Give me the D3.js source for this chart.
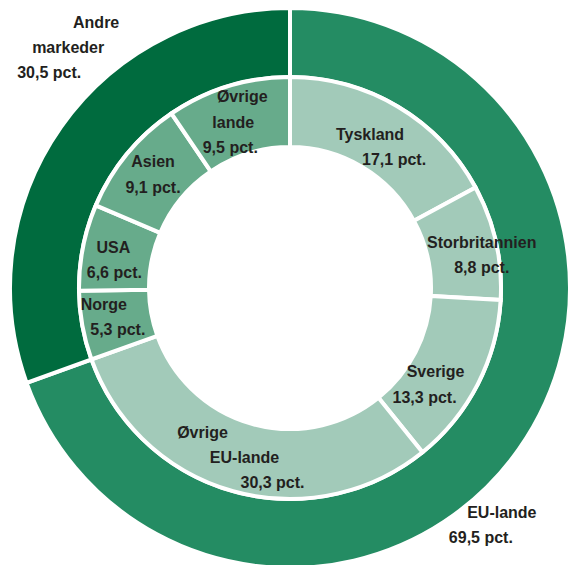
<!DOCTYPE html>
<html>
<head>
<meta charset="utf-8">
<script src="https://cdn.jsdelivr.net/npm/d3@7"></script>
<style>
  html, body { margin: 0; padding: 0; background: #fff; }
  svg { display: block; }
  text { font-family: "Liberation Sans", Arial, sans-serif; font-weight: bold; font-size: 16px; fill: #231f20; }
</style>
</head>
<body>
<svg id="chart" width="577" height="565"></svg>
<script>
// Outer ring: market groups
const groupNames  = ["EU-lande", "Andre markeder"];
const groupValues = [69.5, 30.5];

// Inner ring: individual markets (same order, clockwise from top)
const marketNames  = ["Tyskland", "Storbritannien", "Sverige", "Øvrige EU-lande",
                      "Norge", "USA", "Asien", "Øvrige lande"];
const marketValues = [17.1, 8.8, 13.3, 30.3, 5.3, 6.6, 9.1, 9.5];
const marketGroup  = [0, 0, 0, 0, 1, 1, 1, 1];

// Label text lines
const groupLabelLines  = [["EU-lande", "69,5 pct."], ["Andre", "markeder", "30,5 pct."]];
const marketLabelLines = [
  ["Tyskland", "17,1 pct."],
  ["Storbritannien", "8,8 pct."],
  ["Sverige", "13,3 pct."],
  ["Øvrige", "EU-lande", "30,3 pct."],
  ["Norge", "5,3 pct."],
  ["USA", "6,6 pct."],
  ["Asien", "9,1 pct."],
  ["Øvrige", "lande", "9,5 pct."]
];

// Colours
const groupColors  = ["#248c63", "#006b3e"];
const marketColors = ["#a2cab9", "#67ab8b"];

// Per-line label offsets (dx, dy) from each arc's centroid
const groupLabelOffsets = [
  [[11, 89], [-10, 114]],
  [[7, -119], [-21, -94], [-40, -69]]
];
const marketLabelOffsets = [
  [[-10, 3], [14, 28]],
  [[20, -2], [20, 23]],
  [[-11, 9], [-22, 35]],
  [[-40, -19], [2, 6], [30, 31]],
  [[-13, -9], [1, 16]],
  [[-4, -1], [-3, 24]],
  [[-1, -9], [-1, 17]],
  [[4, -18], [-5, 8], [-8, 33]]
];

const svg = d3.select("#chart");
const cx = 290, cy = 288;
const g = svg.append("g").attr("transform", `translate(${cx},${cy})`);

const pie = d3.pie().sort(null).value(d => d);

const outerArc = d3.arc().innerRadius(211).outerRadius(280);
const innerArc = d3.arc().innerRadius(141).outerRadius(211);

const groupArcs  = pie(groupValues);
const marketArcs = pie(marketValues);

g.selectAll("path.group")
  .data(groupArcs)
  .join("path")
  .attr("class", "group")
  .attr("d", outerArc)
  .attr("fill", (d, i) => groupColors[i])
  .attr("stroke", "#fff")
  .attr("stroke-width", 4);

g.selectAll("path.market")
  .data(marketArcs)
  .join("path")
  .attr("class", "market")
  .attr("d", innerArc)
  .attr("fill", (d, i) => marketColors[marketGroup[i]])
  .attr("stroke", "#fff")
  .attr("stroke-width", 4);

function drawLabels(arcs, arcGen, lines, offsets, cls) {
  arcs.forEach((a, i) => {
    const [px, py] = arcGen.centroid(a);
    lines[i].forEach((t, j) => {
      const [dx, dy] = offsets[i][j];
      g.append("text")
        .attr("class", cls)
        .attr("x", px + dx)
        .attr("y", py + dy)
        .attr("text-anchor", "middle")
        .text(t);
    });
  });
}

drawLabels(marketArcs, innerArc, marketLabelLines, marketLabelOffsets, "market-label");
drawLabels(groupArcs, outerArc, groupLabelLines, groupLabelOffsets, "group-label");
</script>
</body>
</html>
